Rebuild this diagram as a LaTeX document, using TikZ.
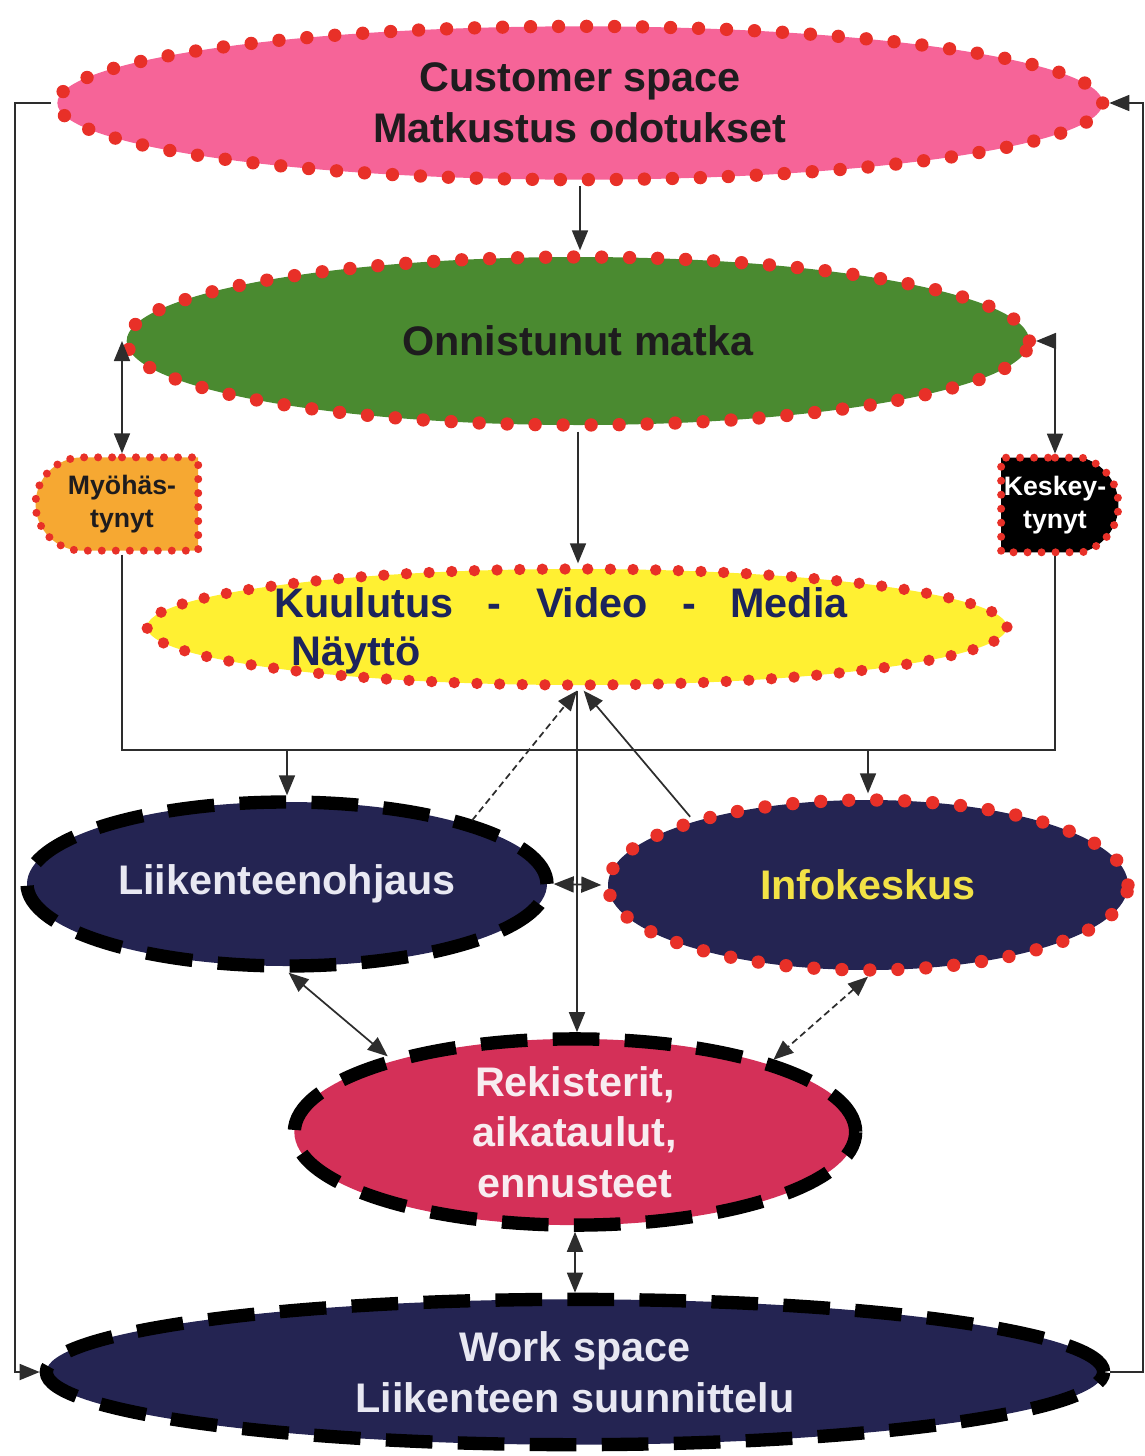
\documentclass[tikz,border=0pt]{standalone}
\usepackage{fontspec}
\setmainfont{Liberation Sans}
\usetikzlibrary{shapes.geometric,shapes.misc,arrows.meta}
\definecolor{pinkfill}{RGB}{246,100,152}
\definecolor{greenfill}{RGB}{74,138,48}
\definecolor{yellowfill}{RGB}{255,240,50}
\definecolor{navyfill}{RGB}{36,36,82}
\definecolor{crimsonfill}{RGB}{212,48,88}
\definecolor{orangefill}{RGB}{246,168,50}
\definecolor{dotred}{RGB}{232,48,40}
\definecolor{connc}{RGB}{45,45,45}
\definecolor{darktext}{RGB}{30,28,30}
\definecolor{navytext}{RGB}{28,36,92}
\definecolor{lighttext}{RGB}{232,232,242}
\definecolor{infotext}{RGB}{242,226,70}
\definecolor{rektext}{RGB}{248,236,240}
\begin{document}
\begin{tikzpicture}[x=0.75pt,y=-0.75pt,
  bigell/.style={ellipse, inner sep=0pt, align=center,
    font=\bfseries\fontsize{31}{38}\selectfont},
  reddots/.style={draw=dotred, line width=10pt, dash pattern=on 0pt off 21pt, line cap=round},
  finedots/.style={draw=dotred, line width=8.5pt, dash pattern=on 0pt off 17pt, line cap=round},
  smalldots/.style={draw=dotred, line width=6pt, dash pattern=on 0pt off 10.5pt, line cap=round},
  blackdash/.style={draw=black, line width=10pt, dash pattern=on 35pt off 19pt},
  smallbox/.style={rounded rectangle, inner sep=2pt, align=center,
    font=\bfseries\fontsize{20}{25}\selectfont},
  conn/.style={draw=connc, line width=1.3pt},
  dconn/.style={conn, dash pattern=on 5pt off 3pt},
  >={Triangle[length=15pt,width=12pt]}
]
\useasboundingbox (0,0) rectangle (1145,1456);

% ellipses
\node[bigell, fill=pinkfill, reddots, text=darktext,
  minimum width=784pt, minimum height=115pt] (cust) at (580,103)
  {Customer space\\Matkustus odotukset};
\node[bigell, fill=greenfill, reddots, text=darktext,
  minimum width=677pt, minimum height=126pt] (onn) at (578,341)
  {Onnistunut matka};
\node[bigell, fill=yellowfill, finedots,
  minimum width=645pt, minimum height=87pt] (kuu) at (577,627) {};
\node[text width=430pt, inner sep=0pt, text=navytext,
  font=\bfseries\fontsize{31}{36}\selectfont] (kuutext) at (561,631)
  {\noindent Kuulutus\hfill-\hfill Video\hfill-\hfill Media\\\hspace*{13pt}Näyttö};
\node[bigell, fill=navyfill, blackdash, text=lighttext,
  minimum width=390pt, minimum height=123pt] (liik) at (287,884)
  {\raisebox{-4pt}{Liikenteenohjaus}};
\node[bigell, fill=navyfill, reddots, text=infotext,
  minimum width=390pt, minimum height=127.5pt] (info) at (868,885)
  {Infokeskus};
\node[bigell, fill=crimsonfill, blackdash, text=rektext,
  minimum width=421pt, minimum height=114pt] (rek) at (575,1132)
  {Rekisterit,\\aikataulut,\\ennusteet};
\node[bigell, fill=navyfill, blackdash, text=lighttext,
  minimum width=793pt, minimum height=109pt] (work) at (575,1372)
  {Work space\\Liikenteen suunnittelu};

% small boxes
\node[smallbox, rounded rectangle right arc=none, fill=orangefill, smalldots,
  text=darktext, minimum width=126pt, minimum height=70pt] (myo) at (122,504)
  {Myöhäs-\\tynyt};
\node[smallbox, rounded rectangle left arc=none, rounded rectangle arc length=150,
  fill=black, smalldots, text=white,
  minimum width=92pt, minimum height=71pt] (kesk) at (1055,505)
  {Keskey-\\tynyt};

\coordinate (bus) at (577,750);

% outer feedback loop
\draw[conn,->] (cust.west) -- ++(-36,0) |- (work.west);
\draw[conn,->] (work.east) -- ++(33,0) |- (cust.east);

% main flow
\draw[conn,->] (cust.south) -- (cust.south |- onn.north);
\draw[conn,->] (onn.south) -- (onn.south |- kuu.north);
\draw[conn,<->] (myo.north) -- (myo.north |- onn.west);
\draw[conn,<->] (kesk.north) |- (onn.east);

% bus
\draw[conn] (myo.south) -- (myo.south |- bus) -- (kesk.south |- bus) -- (kesk.south);
\draw[conn,->] (liik.north |- bus) -- (liik.north);
\draw[conn,->] (info.north |- bus) -- (info.north);

% centre connections
\draw[dconn,->] (liik.19) -- (kuu.south);
\draw[conn,->] (info.159) -- ([xshift=5pt]kuu.south);
\draw[conn,->] (kuu.south) -- (kuu.south |- rek.north);
\draw[conn,<->] (liik.east) -- (info.west);
\draw[conn,<->] (liik.-89) -- (rek.158);
\draw[dconn,<->] (info.south) -- (rek.20);
\draw[conn,<->] (rek.south) -- (rek.south |- work.north);
\end{tikzpicture}
\end{document}
